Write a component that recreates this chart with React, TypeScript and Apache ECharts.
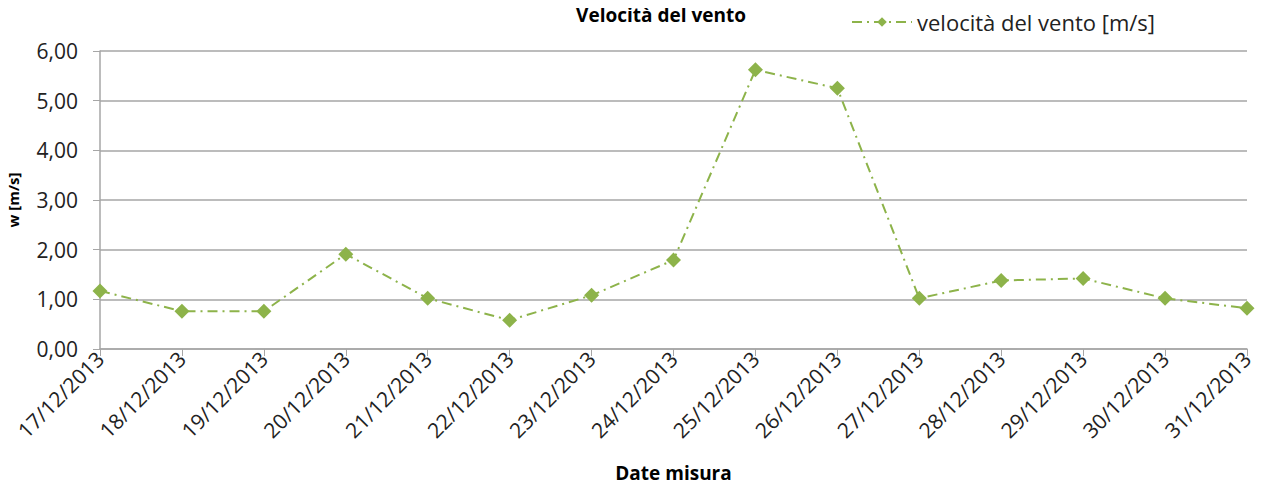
import React, { useEffect, useRef } from "react";
import * as echarts from "echarts";

const categories = [
  "17/12/2013", "18/12/2013", "19/12/2013", "20/12/2013", "21/12/2013",
  "22/12/2013", "23/12/2013", "24/12/2013", "25/12/2013", "26/12/2013",
  "27/12/2013", "28/12/2013", "29/12/2013", "30/12/2013", "31/12/2013",
];
const windSpeed = [1.17, 0.76, 0.76, 1.91, 1.02, 0.58, 1.08, 1.79, 5.62, 5.25, 1.02, 1.38, 1.42, 1.02, 0.82];
const seriesName = "velocità del vento [m/s]";
const titleText = "Velocità del vento";
const yName = "w [m/s]";
const xName = "Date misura";

const FONT = "'Open Sans', 'Liberation Sans', sans-serif";
const GREEN = "#8db34a";

export default function App() {
  const ref = useRef<HTMLDivElement>(null);
  useEffect(() => {
    if (!ref.current) return;
    const chart = echarts.init(ref.current, undefined, { renderer: "svg" });
    chart.setOption({
      animation: false,
      backgroundColor: "#ffffff",
      title: {
        text: titleText,
        left: 656,
        top: 0,
        textAlign: "center",
        textStyle: { fontFamily: FONT, fontSize: 19, fontWeight: "bold", color: "#000" },
      },
      legend: {
        left: 846,
        top: 6,
        itemWidth: 60,
        itemHeight: 12,
        itemGap: 6,
        textStyle: { fontFamily: FONT, fontSize: 22, color: "#222" },
        data: [{ name: seriesName }],
      },
      grid: { left: 100, right: 17, top: 51, bottom: 139, containLabel: false, outerBoundsMode: "none" },
      xAxis: {
        type: "category",
        data: categories,
        boundaryGap: false,
        name: xName,
        nameLocation: "middle",
        nameGap: 114,
        nameTextStyle: { fontFamily: FONT, fontSize: 19, fontWeight: "bold", color: "#000" },
        axisLine: { lineStyle: { color: "#a6a6a6", width: 1.5 } },
        axisTick: { show: true, alignWithLabel: true, length: 7, lineStyle: { color: "#a6a6a6" } },
        axisLabel: {
          rotate: 45,
          interval: 0,
          margin: 6,
          fontFamily: FONT,
          fontSize: 21,
          color: "#222",
        },
        splitLine: { show: false },
      },
      yAxis: {
        type: "value",
        min: 0,
        max: 6,
        interval: 1,
        name: yName,
        nameLocation: "middle",
        nameGap: 80,
        nameTextStyle: { fontFamily: FONT, fontSize: 15, fontWeight: "bold", color: "#000" },
        axisLine: { show: true, lineStyle: { color: "#a6a6a6", width: 1.5 } },
        axisTick: { show: true, length: 7, lineStyle: { color: "#a6a6a6" } },
        axisLabel: {
          margin: 22,
          fontFamily: FONT,
          fontSize: 21,
          color: "#222",
          formatter: (v: number) => v.toFixed(2).replace(".", ","),
        },
        splitLine: { show: true, lineStyle: { color: "#a6a6a6", width: 1.5 } },
      },
      series: [
        {
          name: seriesName,
          type: "line",
          data: windSpeed,
          symbol: "diamond",
          symbolSize: 15,
          itemStyle: { color: GREEN },
          lineStyle: { color: GREEN, width: 2, type: [10, 5, 2, 5] },
        },
      ],
    });
    return () => chart.dispose();
  }, []);
  return <div ref={ref} style={{ width: 1264, height: 488, margin: -8 }} />;
}
